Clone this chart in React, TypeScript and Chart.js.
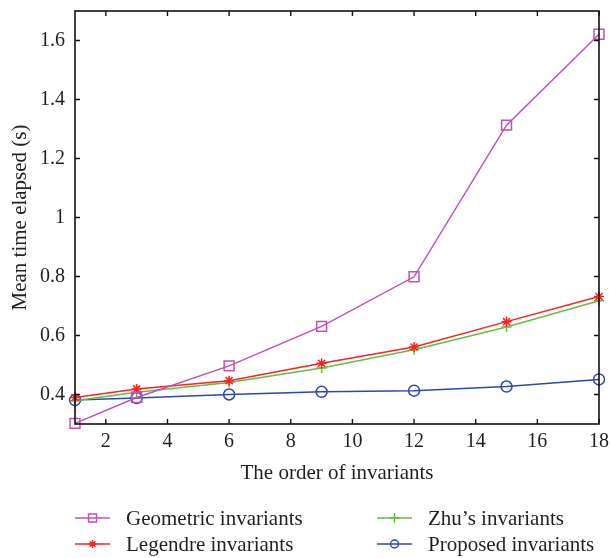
import React, { useEffect, useRef } from "react";
import { Chart, registerables } from "chart.js";

Chart.register(...registerables);

const orders = [1, 3, 6, 9, 12, 15, 18];
const geometric = [0.302, 0.39, 0.497, 0.631, 0.799, 1.313, 1.621];
const legendre = [0.39, 0.419, 0.447, 0.506, 0.561, 0.647, 0.732];
const zhu = [0.379, 0.408, 0.441, 0.49, 0.552, 0.629, 0.718];
const proposed = [0.381, 0.388, 0.4, 0.409, 0.413, 0.427, 0.451];

const xTicks = [2, 4, 6, 8, 10, 12, 14, 16, 18];
const yTicks = [0.4, 0.6, 0.8, 1.0, 1.2, 1.4, 1.6];

const seriesNames = ["Geometric invariants", "Legendre invariants", "Zhu\u2019s invariants", "Proposed invariants"];
const seriesColors = ["#c052b4", "#ff2020", "#66bb44", "#2c4aa6"];
const seriesStyles = ["rect", "star", "cross", "circle"];

const FONT = "'Liberation Serif', 'DejaVu Serif', serif";
const TEXT = "#231f20";

function drawMarker(ctx: CanvasRenderingContext2D, style: string, x: number, y: number, r: number) {
  ctx.beginPath();
  if (style === "rect") {
    ctx.rect(x - r, y - r, 2 * r, 2 * r);
    ctx.stroke();
  } else if (style === "circle") {
    ctx.arc(x, y, r, 0, Math.PI * 2);
    ctx.stroke();
  } else if (style === "cross") {
    ctx.moveTo(x - r, y);
    ctx.lineTo(x + r, y);
    ctx.moveTo(x, y - r);
    ctx.lineTo(x, y + r);
    ctx.stroke();
  } else if (style === "star") {
    for (let k = 0; k < 4; k++) {
      const a = (k * Math.PI) / 4;
      ctx.moveTo(x - r * Math.cos(a), y - r * Math.sin(a));
      ctx.lineTo(x + r * Math.cos(a), y + r * Math.sin(a));
    }
    ctx.stroke();
  }
}

const framePlugin = {
  id: "frame",
  afterDatasetsDraw(chart: any) {
    const { ctx, chartArea: a, scales } = chart;
    const xs = scales.x;
    const ys = scales.y;
    ctx.save();
    ctx.strokeStyle = "#111";
    ctx.lineWidth = 1.6;
    ctx.strokeRect(a.left, a.top, a.right - a.left, a.bottom - a.top);
    ctx.lineWidth = 1.4;
    const tl = 5;
    ctx.beginPath();
    xTicks.forEach((v) => {
      const px = xs.getPixelForValue(v);
      ctx.moveTo(px, a.bottom);
      ctx.lineTo(px, a.bottom - tl);
      ctx.moveTo(px, a.top);
      ctx.lineTo(px, a.top + tl);
    });
    yTicks.forEach((v) => {
      const py = ys.getPixelForValue(v);
      ctx.moveTo(a.left, py);
      ctx.lineTo(a.left + tl, py);
      ctx.moveTo(a.right, py);
      ctx.lineTo(a.right - tl, py);
    });
    ctx.stroke();
    ctx.restore();
  },
  afterDraw(chart: any) {
    const { ctx, chartArea: a } = chart;
    ctx.save();
    ctx.font = "21px " + FONT;
    ctx.textBaseline = "middle";
    ctx.textAlign = "left";
    const cols = [a.left, a.left + 302];
    const rows = [a.bottom + 94, a.bottom + 120];
    const order = [
      [0, 0, 0],
      [1, 0, 1],
      [2, 1, 0],
      [3, 1, 1],
    ];
    order.forEach(([i, c, r]) => {
      const x0 = cols[c];
      const y0 = rows[r];
      ctx.strokeStyle = seriesColors[i];
      ctx.lineWidth = 1.5;
      ctx.beginPath();
      ctx.moveTo(x0, y0);
      ctx.lineTo(x0 + 35, y0);
      ctx.stroke();
      ctx.lineWidth = 1.4;
      drawMarker(ctx, seriesStyles[i], x0 + 17.5, y0, i === 2 ? 5 : 4);
      ctx.fillStyle = TEXT;
      ctx.fillText(seriesNames[i], x0 + 51, y0 + 1);
    });
    ctx.restore();
  },
};

export default function App() {
  const ref = useRef<HTMLCanvasElement | null>(null);
  useEffect(() => {
    if (!ref.current) return;
    const all = [geometric, legendre, zhu, proposed];
    const radii = [7, 5, 5, 5.5];
    const chart = new Chart(ref.current, {
      type: "line",
      data: {
        datasets: all.map((vals, i) => ({
          label: seriesNames[i],
          data: orders.map((o, j) => ({ x: o, y: vals[j] })),
          borderColor: seriesColors[i],
          backgroundColor: "rgba(0,0,0,0)",
          pointBorderColor: seriesColors[i],
          pointBackgroundColor: "rgba(0,0,0,0)",
          pointStyle: seriesStyles[i] as any,
          pointRadius: radii[i],
          pointBorderWidth: 1.5,
          borderWidth: 1.5,
          tension: 0,
          clip: false as any,
        })),
      },
      options: {
        animation: false,
        responsive: false,
        devicePixelRatio: 1,
        layout: { padding: { left: 0, top: 11, right: 11, bottom: 72 } },
        plugins: { legend: { display: false }, tooltip: { enabled: false } },
        scales: {
          x: {
            type: "linear",
            min: 1,
            max: 18,
            grid: { display: false, drawTicks: false },
            border: { display: false },
            afterBuildTicks: (s: any) => {
              s.ticks = xTicks.map((v) => ({ value: v }));
            },
            afterFit: (s: any) => {
              s.height = 62;
              s.paddingLeft = 0;
              s.paddingRight = 0;
            },
            ticks: {
              padding: 6,
              maxRotation: 0,
              color: TEXT,
              font: { family: FONT, size: 20 },
              callback: (v: any) => String(v),
            },
            title: {
              display: true,
              text: "The order of invariants",
              color: TEXT,
              font: { family: FONT, size: 21 },
              padding: { top: 0, bottom: 0 },
            },
          },
          y: {
            type: "linear",
            min: 0.3,
            max: 1.7,
            grid: { display: false, drawTicks: false },
            border: { display: false },
            afterBuildTicks: (s: any) => {
              s.ticks = yTicks.map((v) => ({ value: v }));
            },
            afterFit: (s: any) => {
              s.width = 75;
              s.paddingTop = 0;
              s.paddingBottom = 0;
            },
            ticks: {
              padding: 10,
              color: TEXT,
              font: { family: FONT, size: 20 },
              callback: (v: any) => String(Math.round(Number(v) * 10) / 10),
            },
            title: {
              display: true,
              text: "Mean time elapsed (s)",
              color: TEXT,
              font: { family: FONT, size: 21 },
              padding: { top: 8, bottom: 0 },
            },
          },
        },
      },
      plugins: [framePlugin],
    });
    return () => chart.destroy();
  }, []);
  return (
    <div style={{ position: "fixed", left: 0, top: 0, width: 610, height: 558, background: "#fff" }}>
      <canvas ref={ref} width={610} height={558} style={{ width: 610, height: 558, display: "block" }} />
    </div>
  );
}
